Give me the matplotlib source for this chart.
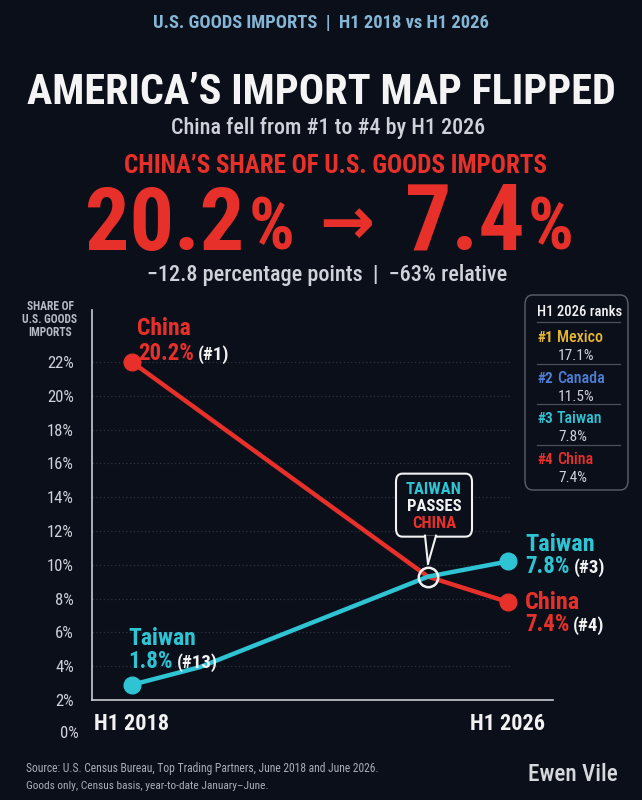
import matplotlib
matplotlib.use("Agg")
import matplotlib.pyplot as plt
from matplotlib import font_manager as fm
from matplotlib.patches import FancyBboxPatch, Polygon
from matplotlib.lines import Line2D
import matplotlib.transforms as mtransforms

# ---- data ----
periods = ["H1 2018", "H1 2026"]
period_x = [2018, 2026]
# plotted heights on the chart's own y axis
china_x = [2018, 2024.3, 2026]
china_y = [22.0, 9.3, 7.8]
taiwan_x = [2018, 2019.45, 2024.3, 2026]
taiwan_y = [2.9, 3.95, 9.3, 10.2]
cross_x, cross_y = 2024.3, 9.3
# labelled shares and ranks
china_share = [20.2, 7.4]
china_rank = [1, 4]
taiwan_share = [1.8, 7.8]
taiwan_rank = [13, 3]
rank_names = ["Mexico", "Canada", "Taiwan", "China"]
rank_shares = [17.1, 11.5, 7.8, 7.4]
yticks = list(range(2, 23, 2))

# ---- colours ----
BG = "#0a0f1a"
RED = "#e8302a"
CYAN = "#2ec4d4"
YELLOW = "#e8b730"
BLUE = "#4d7fd6"
WHITE = "#f2f2f2"
GRAY = "#cfd2d8"
rank_colors = [YELLOW, BLUE, CYAN, RED]

# ---- fonts: prefer condensed faces ----
paths = [f.fname for f in fm.fontManager.ttflist]


def pick(cands, weight):
    for c in cands:
        for p in paths:
            if p.split("/")[-1].lower() == c.lower():
                return fm.FontProperties(fname=p)
    return fm.FontProperties(family="DejaVu Sans", weight=weight)


HEAVY = pick(["RobotoCondensed-Black.ttf", "RobotoCondensed-ExtraBold.ttf",
              "RobotoCondensed-Bold.ttf", "DejaVuSansCondensed-Bold.ttf",
              "LiberationSansNarrow-Bold.ttf"], "bold")
BOLD = pick(["RobotoCondensed-Bold.ttf", "DejaVuSansCondensed-Bold.ttf",
             "LiberationSansNarrow-Bold.ttf"], "bold")
MED = pick(["RobotoCondensed-Medium.ttf", "RobotoCondensed-Regular.ttf",
            "DejaVuSansCondensed.ttf", "LiberationSansNarrow-Regular.ttf"], "normal")
REG = pick(["RobotoCondensed-Regular.ttf", "DejaVuSansCondensed.ttf",
            "LiberationSansNarrow-Regular.ttf"], "normal")
ARROW = fm.FontProperties(family="DejaVu Sans", weight="bold")

W, H = 642, 800
fig = plt.figure(figsize=(W / 100, H / 100), dpi=100)
fig.patch.set_facecolor(BG)
R = fig.canvas.get_renderer()


def fp(base, size):
    p = base.copy()
    p.set_size(size)
    return p


def put(s, x, y, base, size, color, ha="left", va="baseline", width=None):
    t = fig.text(x / W, 1 - y / H, s, fontproperties=fp(base, size),
                 color=color, ha=ha, va=va)
    if width:
        w = t.get_window_extent(R).width
        t.set_fontproperties(fp(base, size * width / w))
    return t


def run(parts, x, y, gap=4):
    cur = x
    for s, base, size, col in parts:
        t = put(s, cur, y, base, size, col)
        cur += t.get_window_extent(R).width + gap


# ---- header ----
put("U.S. GOODS IMPORTS  |  H1 2018 vs H1 2026", 321, 28, BOLD, 11, "#86b6d6",
    ha="center", width=335)
put("AMERICA\u2019S IMPORT MAP FLIPPED", 321, 104, HEAVY, 50, "#f4f4f4",
    ha="center", width=590)
put("China fell from #1 to #4 by H1 2026", 328, 134, MED, 14, GRAY,
    ha="center", width=313)
put("CHINA\u2019S SHARE OF U.S. GOODS IMPORTS", 335, 173, BOLD, 15, RED,
    ha="center", width=426)
put(f"{china_share[0]}", 85, 250, BOLD, 60, RED, width=160)
put("%", 249, 250, BOLD, 40, RED, width=46)
put("\u2192", 347, 226, ARROW, 40, RED, ha="center", va="center", width=55)
put(f"{china_share[1]}", 405, 250, BOLD, 60, RED, width=120)
put("%", 528, 250, BOLD, 40, RED, width=46)
put("\u221212.8 percentage points  |  \u221263% relative", 327, 281, MED, 13,
    GRAY, ha="center", width=361)

# ---- chart ----
ax = fig.add_axes([92 / W, 100 / H, (553 - 92) / W, (700 - 310) / H])
ax.set_facecolor("none")
ax.set_xlim(2017.15, 2026.96)
ax.set_ylim(2, 25.08)
for side in ["top", "right"]:
    ax.spines[side].set_visible(False)
for side in ["left", "bottom"]:
    ax.spines[side].set_color("#c9ccd2")
    ax.spines[side].set_linewidth(1.2)

ax.set_yticks(yticks)
ax.set_yticklabels([f"{v}%" for v in yticks])
ax.set_xticks(period_x)
ax.set_xticklabels(periods)
ax.tick_params(axis="y", length=0, pad=13, colors=GRAY)
ax.tick_params(axis="x", length=0, pad=9, colors=WHITE)
for lab in ax.get_yticklabels():
    lab.set_fontproperties(fp(REG, 12))
for lab in ax.get_xticklabels():
    lab.set_fontproperties(fp(BOLD, 16))
ax.text(-13 / 461, 0, "0%", transform=mtransforms.blended_transform_factory(
    ax.transAxes, ax.transData), ha="right", va="center", color=GRAY,
    fontproperties=fp(REG, 12), clip_on=False)

ax.hlines(yticks[1:], 2017.15, 2026.05, colors="#2a3242", linestyles=(0, (1, 2)),
          linewidth=0.9, zorder=0)

ax.plot(china_x, china_y, color=RED, lw=3.2, solid_capstyle="round", zorder=3,
        marker="o", markevery=[0, len(china_x) - 1], ms=12)
ax.plot(taiwan_x, taiwan_y, color=CYAN, lw=3.2, solid_capstyle="round", zorder=3,
        marker="o", markevery=[0, len(taiwan_x) - 1], ms=12)
ax.plot([cross_x], [cross_y], "o", mfc="none", mec=WHITE, mew=1.8, ms=14, zorder=4)

# y axis title
for s, yy in zip(["SHARE OF", "U.S. GOODS", "IMPORTS"], [310, 323, 336]):
    put(s, 50, yy, BOLD, 8.3, "#b7bbc3", ha="center")

# series labels
run([("China", BOLD, 17, RED)], 137, 335)
run([(f"{china_share[0]}%", BOLD, 16.5, RED), (f"(#{china_rank[0]})", BOLD, 13.5, WHITE)], 138, 360)
run([("Taiwan", BOLD, 17, CYAN)], 128, 645)
run([(f"{taiwan_share[0]}%", BOLD, 16.5, CYAN), (f"(#{taiwan_rank[0]})", BOLD, 13.5, WHITE)], 128, 668)
run([("Taiwan", BOLD, 17.5, CYAN)], 525, 551)
run([(f"{taiwan_share[1]}%", BOLD, 16.5, CYAN), (f"(#{taiwan_rank[1]})", BOLD, 13.5, WHITE)], 525, 573)
run([("China", BOLD, 17.5, RED)], 525, 609)
run([(f"{china_share[1]}%", BOLD, 16.5, RED), (f"(#{china_rank[1]})", BOLD, 13.5, WHITE)], 525, 631)

# callout anchored on the crossing point
cx, cy = ax.transData.transform((cross_x, cross_y))
cy = H - cy
tip = cy - 13
bx0, bx1, by0, by1 = cx - 32, cx + 44, cy - 103, cy - 40
fig.patches.append(FancyBboxPatch((bx0 / W, 1 - by1 / H), (bx1 - bx0) / W,
                                  (by1 - by0) / H,
                                  boxstyle="round,pad=0,rounding_size=0.01",
                                  transform=fig.transFigure, fc=BG, ec=WHITE,
                                  lw=1.5, zorder=5))
tail = [((cx - 3) / W, 1 - (by1 - 1) / H), ((cx + 8) / W, 1 - (by1 - 1) / H),
        (cx / W, 1 - tip / H)]
fig.patches.append(Polygon(tail, closed=True, transform=fig.transFigure,
                           fc=BG, ec="none", zorder=6))
for a in [tail[0], tail[1]]:
    fig.lines.append(Line2D([a[0], tail[2][0]], [a[1], tail[2][1]],
                            transform=fig.transFigure, color=WHITE, lw=1.5, zorder=7))
mid = (bx0 + bx1) / 2
put("TAIWAN", mid, by0 + 20, BOLD, 12, CYAN, ha="center").set_zorder(8)
put("PASSES", mid, by0 + 37, BOLD, 12, WHITE, ha="center").set_zorder(8)
put("CHINA", mid, by0 + 54, BOLD, 12, RED, ha="center").set_zorder(8)

# ranks box
fig.patches.append(FancyBboxPatch((525 / W, 1 - 490 / H), 103 / W, 195 / H,
                                  boxstyle="round,pad=0,rounding_size=0.012",
                                  transform=fig.transFigure, fc=BG, ec="#5b616b",
                                  lw=1.0, zorder=5))
put("H1 2026 ranks", 537, 316, MED, 10.5, WHITE).set_zorder(8)
for yy in [322, 364, 404, 445]:
    fig.lines.append(Line2D([537 / W, 620 / W], [1 - yy / H, 1 - yy / H],
                            transform=fig.transFigure, color="#4a505a", lw=0.9,
                            zorder=7))
for i, (name, share, col) in enumerate(zip(rank_names, rank_shares, rank_colors)):
    y0 = 342 + i * 40.7
    put(f"#{i + 1}", 537, y0, BOLD, 11, col).set_zorder(8)
    put(name, 557, y0, MED, 11.5, col).set_zorder(8)
    put(f"{share}%", 558, y0 + 18, REG, 11, GRAY).set_zorder(8)

# footer
put("Source: U.S. Census Bureau, Top Trading Partners, June 2018 and June 2026.",
    26, 772, REG, 8, "#a9aeb6", width=357)
put("Goods only, Census basis, year-to-date January\u2013June.", 26, 789, REG, 8,
    "#a9aeb6", width=242)
put("Ewen Vile", 618, 781, MED, 15, "#d6d8dc", ha="right", width=90)

fig.savefig("out.png", dpi=100, facecolor=BG)
